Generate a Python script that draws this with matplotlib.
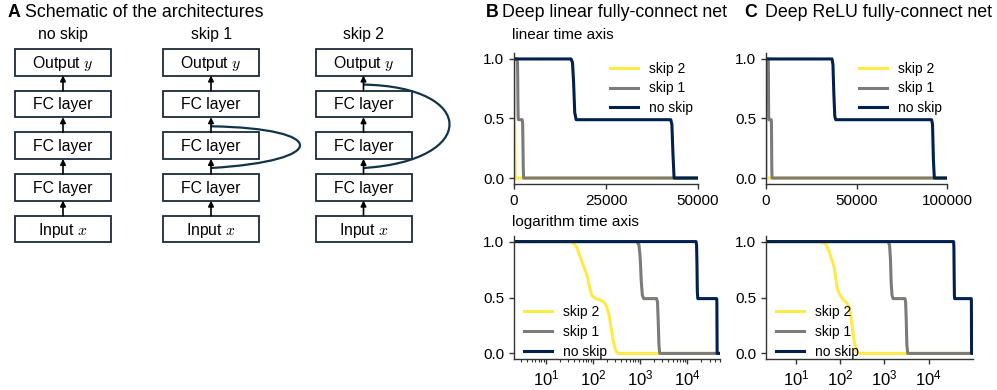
import matplotlib
matplotlib.use("Agg")
import matplotlib.pyplot as plt
from matplotlib.patches import Rectangle, PathPatch
from matplotlib.path import Path

plt.rcParams['font.family'] = ['Liberation Sans', 'DejaVu Sans']
plt.rcParams['mathtext.fontset'] = 'custom'
plt.rcParams['mathtext.rm'] = 'Liberation Sans'
plt.rcParams['mathtext.it'] = 'cmmi10'

# ---------------- data ----------------
architectures = ['no skip', 'skip 1', 'skip 2']
layers = ['Output $y$', 'FC layer', 'FC layer', 'FC layer', 'Input $x$']
skip_span = [0, 1, 2]          # number of FC layers bypassed by the skip connection

series_names = ['skip 2', 'skip 1', 'no skip']
series_colors = ['#FFEA46', '#7C7B78', '#00204D']

# Panel B: deep linear net
B_t_skip2 = [1, 33, 38, 45, 53, 62, 76, 85, 94, 115, 141, 170, 196, 220, 241, 268, 294, 320, 345, 50000]
B_skip2 = [1.0, 1.0, 0.99, 0.95, 0.87, 0.79, 0.69, 0.59, 0.52, 0.49, 0.48, 0.46, 0.42, 0.34, 0.24, 0.12, 0.045, 0.01, 0.0, 0.0]
B_t_skip1 = [1, 850, 950, 1010, 1060, 1120, 1200, 2250, 2350, 2430, 2520, 2620, 50000]
B_skip1 = [1.0, 1.0, 0.97, 0.85, 0.65, 0.52, 0.49, 0.49, 0.46, 0.3, 0.08, 0.0, 0.0]
B_t_noskip = [1, 15500, 15900, 16200, 16500, 16900, 42600, 42900, 43200, 43500, 50000]
B_noskip = [1.0, 1.0, 0.97, 0.8, 0.55, 0.49, 0.49, 0.45, 0.2, 0.0, 0.0]

# Panel C: deep ReLU net
C_t_skip2 = [1, 35, 42, 48, 54, 63, 73, 85, 96, 107, 125, 139, 155, 171, 183, 196, 215, 233, 255, 280, 100000]
C_skip2 = [1.0, 1.0, 0.99, 0.97, 0.93, 0.85, 0.77, 0.59, 0.53, 0.5, 0.47, 0.455, 0.42, 0.35, 0.26, 0.17, 0.07, 0.02, 0.005, 0.0, 0.0]
C_t_skip1 = [1, 1200, 1300, 1360, 1420, 1480, 1560, 2900, 3000, 3100, 3200, 3350, 100000]
C_skip1 = [1.0, 1.0, 0.97, 0.85, 0.62, 0.52, 0.49, 0.49, 0.46, 0.3, 0.08, 0.0, 0.0]
C_t_noskip = [1, 36500, 37000, 37500, 38000, 38500, 91500, 92000, 92500, 93000, 100000]
C_noskip = [1.0, 1.0, 0.95, 0.7, 0.52, 0.49, 0.49, 0.45, 0.15, 0.0, 0.0]

B_lin_xticks = [0, 25000, 50000]
C_lin_xticks = [0, 50000, 100000]
log_xticks = [10, 100, 1000, 10000]
yticks = [0.0, 0.5, 1.0]

# ---------------- figure ----------------
W, H = 997, 390
fig = plt.figure(figsize=(W / 100, H / 100), dpi=100)

# overlay axes in pixel coordinates for the schematic
ax0 = fig.add_axes([0, 0, 1, 1])
ax0.set_xlim(0, W)
ax0.set_ylim(H, 0)
ax0.axis('off')

col_centers = [63, 211, 363.5]
box_w, box_h = 96, 26.5
row_tops = [49, 90.7, 132.4, 174.1, 215.8]
edge = '#1b2a38'
curve_col = '#12344a'

for ci, (name, cx) in enumerate(zip(architectures, col_centers)):
    ax0.text(cx, 39, name, ha='center', va='baseline', fontsize=11.3)
    for ri, lab in enumerate(layers):
        ax0.add_patch(Rectangle((cx - box_w / 2, row_tops[ri]), box_w, box_h,
                                fill=False, ec=edge, lw=1.3))
        ax0.text(cx, row_tops[ri] + box_h / 2 + 1, lab, ha='center', va='center',
                 fontsize=11.3)
    for ri in range(len(layers) - 1):
        y_top = row_tops[ri] + box_h
        y_bot = row_tops[ri + 1]
        ax0.annotate('', xy=(cx, y_top), xytext=(cx, y_bot),
                     arrowprops=dict(arrowstyle='-|>', color='k', lw=1.2,
                                     mutation_scale=8, shrinkA=0, shrinkB=0))
    k = skip_span[ci]
    if k > 0:
        lower_gap = (row_tops[3] + row_tops[2] + box_h) / 2 + 1.5
        upper_gap = (row_tops[3 - k] + row_tops[2 - k] + box_h) / 2 + 1.5
        reach = 89 if k == 1 else 86
        xmax = cx + reach
        c = (xmax - 0.25 * cx) / 0.75
        verts = [(cx, lower_gap), (c, lower_gap - 7), (c, upper_gap + 2), (cx, upper_gap)]
        path = Path(verts, [Path.MOVETO, Path.CURVE4, Path.CURVE4, Path.CURVE4])
        ax0.add_patch(PathPatch(path, fill=False, ec=curve_col, lw=1.6))

# titles
fig.text(8 / W, 1 - 17 / H, 'A', fontsize=12.8, fontweight='bold', va='baseline')
fig.text(25 / W, 1 - 17 / H, 'Schematic of the architectures', fontsize=12.8, va='baseline')
fig.text(486 / W, 1 - 17 / H, 'B', fontsize=12.8, fontweight='bold', va='baseline')
fig.text(502 / W, 1 - 17 / H, 'Deep linear fully-connect net', fontsize=12.8, va='baseline')
fig.text(744 / W, 1 - 17 / H, 'C', fontsize=12.8, fontweight='bold', va='baseline')
fig.text(765 / W, 1 - 17 / H, 'Deep ReLU fully-connect net', fontsize=12.8, va='baseline')
fig.text(512 / W, 1 - 39 / H, 'linear time axis', fontsize=11, va='baseline')
fig.text(512 / W, 1 - 226 / H, 'logarithm time axis', fontsize=11, va='baseline')


def px_axes(x0, x1, ytop, ybot):
    return fig.add_axes([x0 / W, 1 - ybot / H, (x1 - x0) / W, (ybot - ytop) / H])


def style(ax):
    for s in ['top', 'right']:
        ax.spines[s].set_visible(False)
    for s in ['left', 'bottom']:
        ax.spines[s].set_color('#333333')
        ax.spines[s].set_linewidth(1.0)
    ax.tick_params(which='major', labelsize=11, length=3.5, width=1.0, color='#333333')
    ax.tick_params(which='minor', length=2, width=0.8, color='#333333')
    ax.set_yticks(yticks)
    ax.set_yticklabels(['0.0', '0.5', '1.0'])
    ax.set_ylim(-0.05, 1.05)


def draw(ax, data):
    for (t, v), name, col in zip(data, series_names, series_colors):
        ax.plot(t, v, color=col, lw=2.2, label=name)


B_data = [(B_t_skip2, B_skip2), (B_t_skip1, B_skip1), (B_t_noskip, B_noskip)]
C_data = [(C_t_skip2, C_skip2), (C_t_skip1, C_skip1), (C_t_noskip, C_noskip)]

top_leg = dict(frameon=False, fontsize=10, loc='upper right', labelspacing=0.42,
               bbox_to_anchor=(1.04, 1.03))
bot_leg = dict(frameon=False, fontsize=10, loc='lower left', labelspacing=0.42,
               bbox_to_anchor=(-0.01, -0.1))

# B top
axB1 = px_axes(514, 698, 53, 184)
draw(axB1, B_data)
style(axB1)
axB1.set_xlim(0, 50000)
axB1.set_xticks(B_lin_xticks)
axB1.set_xticklabels([str(v) for v in B_lin_xticks])
axB1.legend(**top_leg)

# B bottom
axB2 = px_axes(514, 720, 236, 359)
draw(axB2, B_data)
axB2.set_xscale('log')
style(axB2)
axB2.set_xlim(2.1, 50000)
axB2.set_xticks(log_xticks)
axB2.tick_params(axis='x', which='major', labelsize=12)
axB2.legend(**bot_leg)

# C top
axC1 = px_axes(766, 947, 53, 184)
draw(axC1, C_data)
style(axC1)
axC1.set_xlim(0, 100000)
axC1.set_xticks(C_lin_xticks)
axC1.set_xticklabels([str(v) for v in C_lin_xticks])
axC1.legend(**top_leg)

# C bottom
axC2 = px_axes(766, 973, 236, 359)
draw(axC2, C_data)
axC2.set_xscale('log')
style(axC2)
axC2.set_xlim(2.1, 100000)
axC2.set_xticks(log_xticks)
axC2.tick_params(axis='x', which='major', labelsize=12)
axC2.legend(**bot_leg)

fig.savefig('out.png', dpi=100)
